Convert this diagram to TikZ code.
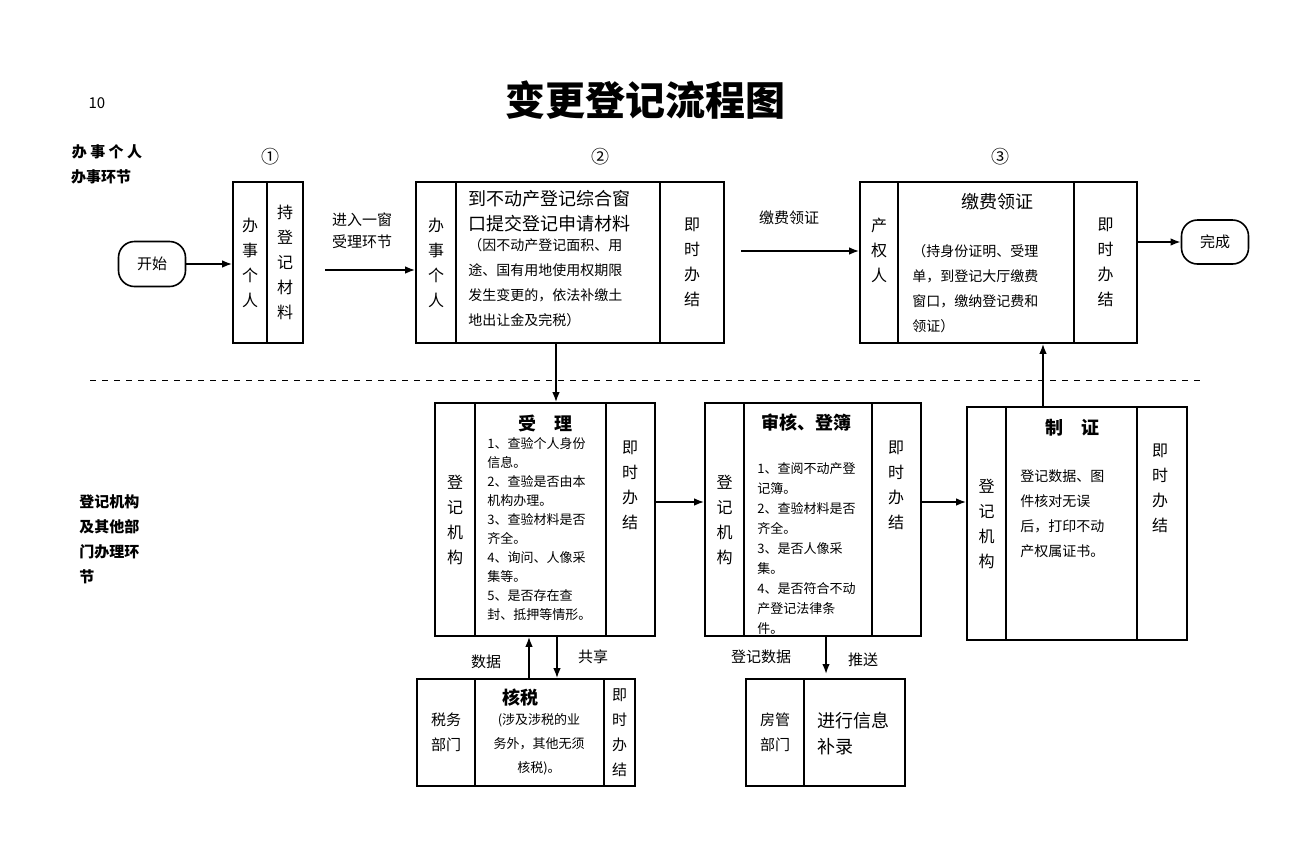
\documentclass[tikz,border=0pt]{standalone}
\usepackage{fontspec}
\setmainfont{Noto Sans CJK SC}
\usetikzlibrary{fit,arrows.meta,positioning}
\tikzset{
  cell/.style={draw, thick, inner sep=0pt},
  vtext/.style={align=center, font=\fontsize{8}{12.5}\selectfont},
  body/.style={align=left, font=\fontsize{6.5}{9.5}\selectfont, anchor=north west, inner sep=0pt},
  head/.style={font=\bfseries\fontsize{9}{12}\selectfont, inner sep=0pt},
  lbl/.style={font=\fontsize{7.5}{11}\selectfont, inner sep=0pt},
  arr/.style={draw, thick, -{Latex[length=5pt]}}
}
\begin{document}
\begin{tikzpicture}[x=0.5pt, y=-0.5pt]
\useasboundingbox (0,0) rectangle (1297,864);
% headings
\node[lbl] (pg) at (97,103) {10};
\node[font=\bfseries\fontsize{20}{24}\selectfont] (title) at (645,100) {变更登记流程图};
\node[lbl, font=\bfseries\fontsize{7.5}{11}\selectfont] (who) at (107,152) {办 事 个 人};
\node[lbl, font=\bfseries\fontsize{7.5}{11}\selectfont] (step) at (101,177) {办事环节};
\node[lbl, align=left, anchor=north west, font=\bfseries\fontsize{7.5}{12.5}\selectfont] (org) at (79,494) {登记机构\\及其他部\\门办理环\\节};
\node[lbl, font=\fontsize{9}{11}\selectfont] (n1) at (270,157) {①};
\node[lbl, font=\fontsize{9}{11}\selectfont] (n2) at (600,157) {②};
\node[lbl, font=\fontsize{9}{11}\selectfont] (n3) at (1000,157) {③};
\draw[dashed] (90,380) -- (1203,380);

% start / end
\node[draw, thick, rounded corners=8pt, minimum width=33.5pt, minimum height=22.5pt, lbl] (st) at (152,264) {开始};
\node[draw, thick, rounded corners=8pt, minimum width=33.5pt, minimum height=22pt, lbl] (fin) at (1215,242) {完成};

% box A
\node[cell, fit={(233,182) (267,343)}] (a1) {};
\node[cell, fit={(267,182) (303,343)}] (a2) {};
\node[vtext] (a1t) at (a1) {办\\事\\个\\人};
\node[vtext] (a2t) at (a2) {持\\登\\记\\材\\料};

% box B
\node[cell, fit={(416,182) (456,343)}] (b1) {};
\node[cell, fit={(456,182) (660,343)}] (b2) {};
\node[cell, fit={(660,182) (724,343)}] (b3) {};
\node[vtext] (b1t) at (b1) {办\\事\\个\\人};
\node[vtext] (b3t) at (b3) {即\\时\\办\\结};
\node[align=left, anchor=north west, inner sep=0pt, font=\fontsize{9}{12.5}\selectfont] (b2h) at (468,190) {到不动产登记综合窗\\口提交登记申请材料};
\node[body, font=\fontsize{7}{12.5}\selectfont, below=3pt of b2h.south west, anchor=north west] (b2b) {（因不动产登记面积、用\\途、国有用地使用权期限\\发生变更的，依法补缴土\\地出让金及完税）};

% box C
\node[cell, fit={(860,182) (898,343)}] (c1) {};
\node[cell, fit={(898,182) (1074,343)}] (c2) {};
\node[cell, fit={(1074,182) (1137,343)}] (c3) {};
\node[vtext] (c1t) at (879,250) {产\\权\\人};
\node[vtext] (c3t) at (c3) {即\\时\\办\\结};
\node[head, font=\fontsize{9}{12}\selectfont] (c2h) at (997,202) {缴费领证};
\node[body, font=\fontsize{7}{12.5}\selectfont] (c2b) at (912,244) {（持身份证明、受理\\单，到登记大厅缴费\\窗口，缴纳登记费和\\领证）};

% box D
\node[cell, fit={(435,403) (475,636)}] (d1) {};
\node[cell, fit={(475,403) (606,636)}] (d2) {};
\node[cell, fit={(606,403) (655,636)}] (d3) {};
\node[vtext] (d1t) at (d1) {登\\记\\机\\构};
\node[vtext] (d3t) at (630,485) {即\\时\\办\\结};
\node[head] (d2h) at (545,423) {受\quad 理};
\node[body] (d2b) at (487,437) {1、查验个人身份\\信息。\\2、查验是否由本\\机构办理。\\3、查验材料是否\\齐全。\\4、询问、人像采\\集等。\\5、是否存在查\\封、抵押等情形。};

% box E
\node[cell, fit={(705,403) (744,636)}] (e1) {};
\node[cell, fit={(744,403) (872,636)}] (e2) {};
\node[cell, fit={(872,403) (921,636)}] (e3) {};
\node[vtext] (e1t) at (e1) {登\\记\\机\\构};
\node[vtext] (e3t) at (896,485) {即\\时\\办\\结};
\node[head] (e2h) at (806,423) {审核、登簿};
\node[body, font=\fontsize{6.5}{10}\selectfont] (e2b) at (757,462) {1、查阅不动产登\\记簿。\\2、查验材料是否\\齐全。\\3、是否人像采\\集。\\4、是否符合不动\\产登记法律条\\件。};

% box F
\node[cell, fit={(967,407) (1006,640)}] (f1) {};
\node[cell, fit={(1006,407) (1137,640)}] (f2) {};
\node[cell, fit={(1137,407) (1187,640)}] (f3) {};
\node[vtext] (f1t) at (f1) {登\\记\\机\\构};
\node[vtext] (f3t) at (1160,488) {即\\时\\办\\结};
\node[head] (f2h) at (1072,428) {制\quad 证};
\node[body, font=\fontsize{7}{12.5}\selectfont] (f2b) at (1020,469) {登记数据、图\\件核对无误\\后，打印不动\\产权属证书。};

% box G
\node[cell, fit={(417,679) (475,786)}] (g1) {};
\node[cell, fit={(475,679) (604,786)}] (g2) {};
\node[cell, fit={(604,679) (635,786)}] (g3) {};
\node[vtext, font=\fontsize{7.5}{12.5}\selectfont] (g1t) at (g1) {税务\\部门};
\node[vtext, font=\fontsize{7.5}{12.5}\selectfont] (g3t) at (g3) {即\\时\\办\\结};
\node[head] (g2h) at (520,698) {核税};
\node[body, align=center, anchor=north, font=\fontsize{6.5}{12}\selectfont] (g2b) at (539,713) {(涉及涉税的业\\务外，其他无须\\核税)。};

% box H
\node[cell, fit={(746,679) (804,786)}] (h1) {};
\node[cell, fit={(804,679) (905,786)}] (h2) {};
\node[vtext, font=\fontsize{7.5}{12.5}\selectfont] (h1t) at (h1) {房管\\部门};
\node[align=left, anchor=north west, inner sep=0pt, font=\fontsize{9}{13}\selectfont] (h2t) at (817,712) {进行信息\\补录};

% arrows
\path[arr] (st.east) -- (a1.west |- st.east);
\path[arr] (325,270) coordinate (ab) -- (b1.west |- ab);
\node[lbl, align=left] (abl) at (362,231) {进入一窗\\受理环节};
\path[arr] (741,251) coordinate (bc) -- (c1.west |- bc);
\node[lbl] (bcl) at (789,218) {缴费领证};
\path[arr] (c3.east |- fin) -- (fin.west);
\path[arr] (b2.south -| 556,0) -- (d2.north -| 556,0);
\path[arr] (d3.east |- 0,502) -- (e1.west |- 0,502);
\path[arr] (e3.east |- 0,502) -- (f1.west |- 0,502);
\path[arr] (f2.north -| 1043,0) -- (c2.south -| 1043,0);
\path[arr] (g2.north -| 529,0) -- (d2.south -| 529,0);
\path[arr] (d2.south -| 557,0) -- (g2.north -| 557,0);
\path[arr] (e2.south -| 826,0) -- (826,674);
\node[lbl] (dat) at (486,662) {数据};
\node[lbl] (shr) at (593,657) {共享};
\node[lbl] (edat) at (761,657) {登记数据};
\node[lbl] (push) at (863,660) {推送};
\end{tikzpicture}
\end{document}
